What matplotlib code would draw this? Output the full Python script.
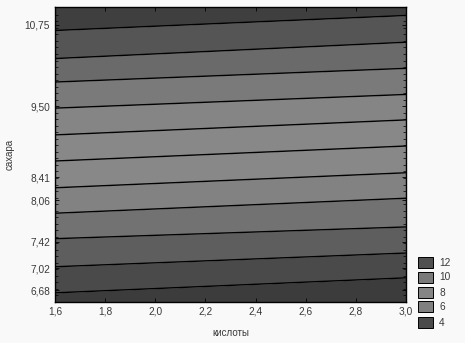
import numpy as np
import matplotlib.pyplot as plt
from matplotlib.patches import Rectangle

# contour line heights at the left (x=1.6) and right (x=3.0) edges
x_edges = [1.6, 3.0]
lines_left = [10.66, 10.23, 9.87, 9.47, 9.06, 8.66, 8.25, 7.86, 7.47, 7.04, 6.64]
lines_right = [10.89, 10.48, 10.08, 9.68, 9.29, 8.89, 8.48, 8.09, 7.65, 7.25, 6.87]
band_colors = ['#3f3f3f', '#555555', '#6a6a6a', '#7a7a7a', '#858585', '#888888',
               '#888888', '#828282', '#727272', '#5e5e5e', '#4a4a4a', '#3c3c3c']

y_ticks = [6.68, 7.02, 7.42, 8.06, 8.41, 9.50, 10.75]
x_ticks = [1.6, 1.8, 2.0, 2.2, 2.4, 2.6, 2.8, 3.0]
legend_labels = ['12', '10', '8', '6', '4']
legend_colors = ['#505050', '#7a7a7a', '#858585', '#808080', '#4a4a4a']

ymin, ymax = 6.5, 11.02

plt.rcParams['font.family'] = ['Liberation Sans', 'DejaVu Sans']

fig = plt.figure(figsize=(4.65, 3.43), dpi=100, facecolor='#f9f9f9')
ax = fig.add_axes([55 / 465, 41 / 343, 351 / 465, 295 / 343])

# bands: top edge of band i is line i-1 (or axis top), bottom is line i (or axis bottom)
tops = [[ymax, ymax]] + [[l, r] for l, r in zip(lines_left, lines_right)]
bottoms = [[l, r] for l, r in zip(lines_left, lines_right)] + [[ymin, ymin]]
for top, bot, c in zip(tops, bottoms, band_colors):
    ax.fill_between(x_edges, bot, top, color=c, lw=0)

for l, r in zip(lines_left, lines_right):
    ax.plot(x_edges, [l, r], color='black', lw=1.0)

ax.set_xlim(1.6, 3.0)
ax.set_ylim(ymin, ymax)
ax.set_xticks(x_ticks)
ax.set_xticklabels([('%.1f' % v).replace('.', ',') for v in x_ticks])
ax.set_yticks(y_ticks)
ax.set_yticklabels([('%.2f' % v).replace('.', ',') for v in y_ticks])
ax.set_yticks(np.arange(6.5, 11.0, 0.1), minor=True)
ax.tick_params(which='both', direction='in', top=True, right=True,
               labelsize=7.3, labelcolor='#3a3a3a', color='black')
ax.tick_params(which='major', length=3, width=0.6)
ax.tick_params(which='minor', length=2, width=0.5)
for s in ax.spines.values():
    s.set_linewidth(1.0)

ax.set_xlabel('кислоты', fontsize=7, color='#3a3a3a', labelpad=8)
ax.set_ylabel('сахара', fontsize=7, color='#3a3a3a', labelpad=7)

# legend boxes
box_y = [257, 272, 287, 301, 317]
for lab, c, yb in zip(legend_labels, legend_colors, box_y):
    fig.patches.append(Rectangle((418 / 465, 1 - (yb + 11) / 343), 15 / 465, 11 / 343,
                                 transform=fig.transFigure, facecolor=c,
                                 edgecolor='black', lw=0.7))
    fig.text(439 / 465, 1 - (yb + 5.5) / 343, lab, fontsize=7.3, color='#3a3a3a',
             va='center', ha='left')

fig.savefig('out.png', dpi=100, facecolor=fig.get_facecolor())
